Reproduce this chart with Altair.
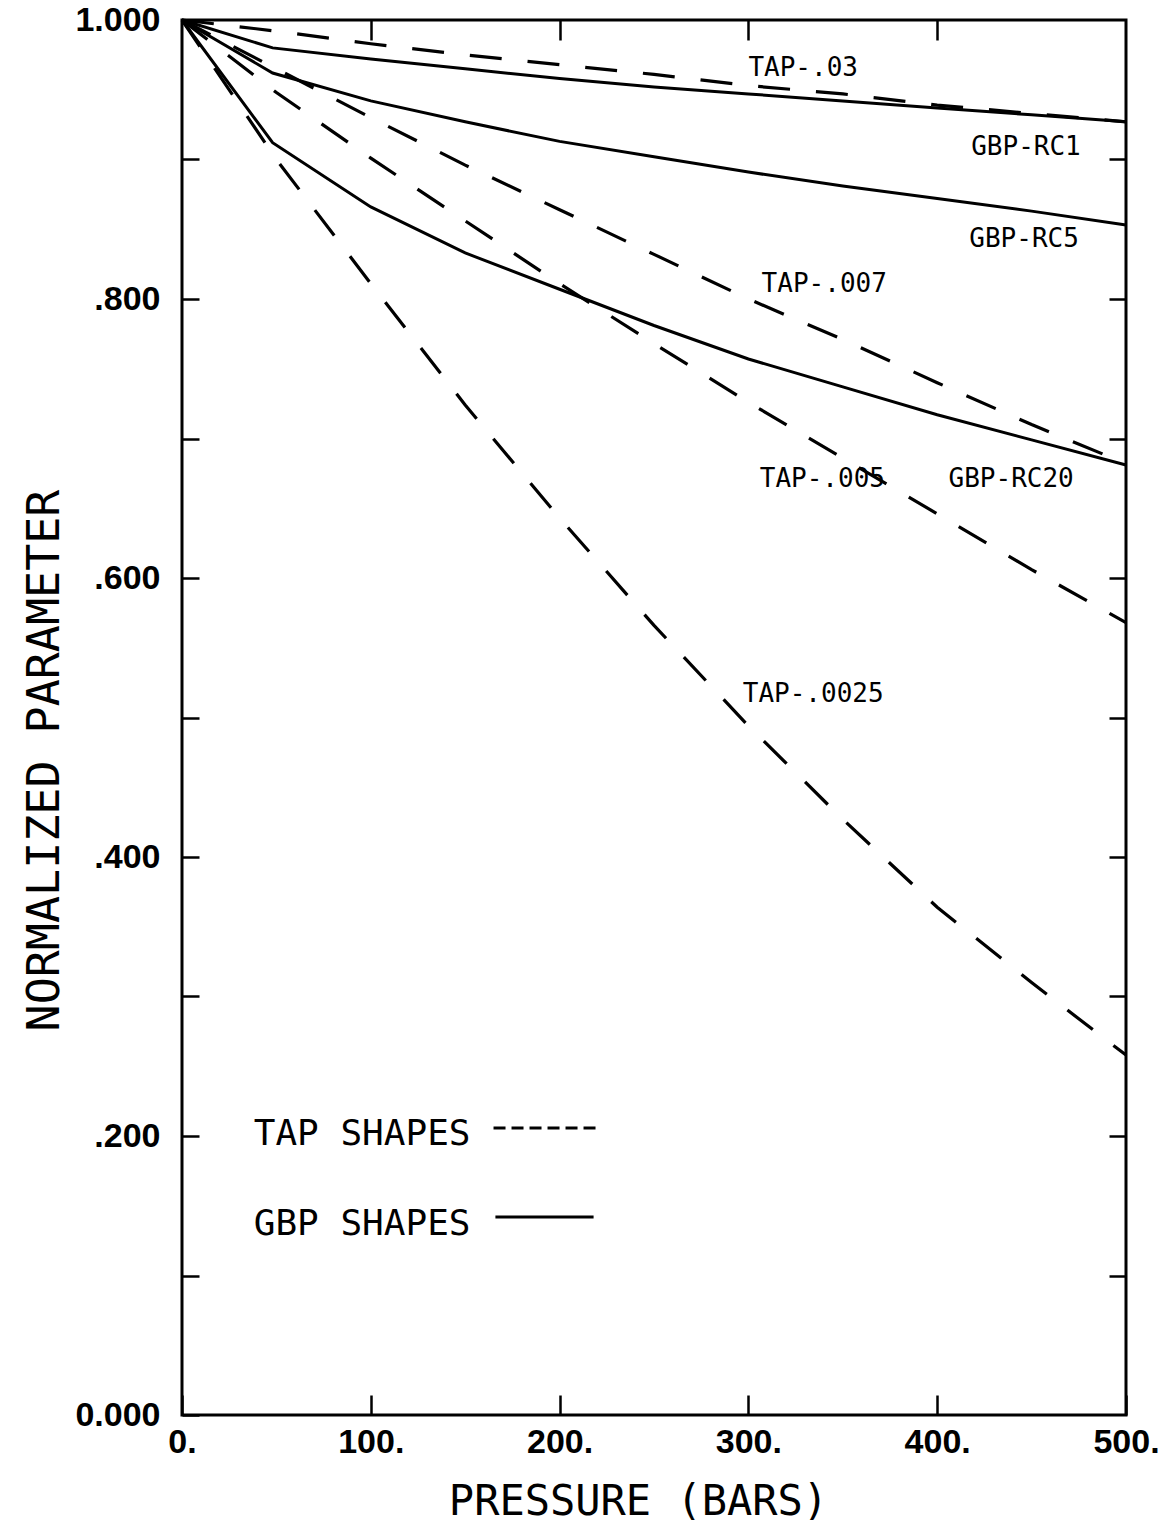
import altair as alt
import pandas as pd

# Pressure grid (bars) for the computed curves
TAP_P = [0, 50, 100, 150, 200, 250, 300, 350, 400, 450, 500]
GBP_P = [0, 48, 100, 150, 200, 250, 300, 350, 400, 450, 500]

# TAP shapes (dashed)
TAP_03 = [1.000, 0.992, 0.983, 0.975, 0.968, 0.961, 0.953, 0.947, 0.939, 0.933, 0.927]
TAP_007 = [1.000, 0.965, 0.930, 0.896, 0.864, 0.832, 0.800, 0.771, 0.740, 0.710, 0.682]
TAP_005 = [1.000, 0.948, 0.901, 0.856, 0.811, 0.768, 0.726, 0.686, 0.646, 0.606, 0.568]
TAP_0025 = [1.000, 0.900, 0.811, 0.724, 0.643, 0.566, 0.494, 0.427, 0.364, 0.310, 0.258]

# GBP shapes (solid)
GBP_RC1 = [1.000, 0.980, 0.972, 0.965, 0.958, 0.952, 0.947, 0.942, 0.937, 0.932, 0.927]
GBP_RC5 = [1.000, 0.962, 0.942, 0.927, 0.913, 0.902, 0.891, 0.881, 0.872, 0.863, 0.853]
GBP_RC20 = [1.000, 0.912, 0.866, 0.833, 0.807, 0.781, 0.757, 0.737, 0.717, 0.699, 0.681]

# Curve labels: text, pressure, parameter (left / baseline anchor)
LABEL_TEXT = ["TAP-.03", "GBP-RC1", "GBP-RC5", "TAP-.007", "TAP-.005", "GBP-RC20", "TAP-.0025"]
LABEL_X = [300, 418, 417, 307, 306, 406, 297]
LABEL_Y = [0.960, 0.903, 0.837, 0.805, 0.665, 0.665, 0.511]

# Key entries
KEY_TEXT = ["TAP SHAPES", "GBP SHAPES"]
KEY_X = [38, 38]
KEY_Y = [0.1935, 0.129]
KEY_LINE_X = [165, 166]
KEY_LINE_X2 = [222, 218]
KEY_LINE_Y = [0.2057, 0.142]

# Axis ticks and labels
X_TICKS = [0, 100, 200, 300, 400, 500]
X_LABELS = ["0.", "100.", "200.", "300.", "400.", "500."]
X_TOP_TICKS = [100, 200, 300, 400]
Y_TICKS = [round(i * 0.1, 1) for i in range(11)]
Y_LABELS = ["0.000", "", ".200", "", ".400", "", ".600", "", ".800", "", "1.000"]

rows = []
for name, vals in [("TAP-.03", TAP_03), ("TAP-.007", TAP_007),
                   ("TAP-.005", TAP_005), ("TAP-.0025", TAP_0025)]:
    for p, v in zip(TAP_P, vals):
        rows.append({"series": name, "pressure": p, "value": v})
tap_df = pd.DataFrame(rows)

rows = []
for name, vals in [("GBP-RC1", GBP_RC1), ("GBP-RC5", GBP_RC5), ("GBP-RC20", GBP_RC20)]:
    for p, v in zip(GBP_P, vals):
        rows.append({"series": name, "pressure": p, "value": v})
gbp_df = pd.DataFrame(rows)

labels_df = pd.DataFrame({"text": LABEL_TEXT, "pressure": LABEL_X, "value": LABEL_Y})
key_df = pd.DataFrame({"text": KEY_TEXT, "pressure": KEY_X, "value": KEY_Y})
key_dash_df = pd.DataFrame({"x": KEY_LINE_X[:1], "x2": KEY_LINE_X2[:1], "y": KEY_LINE_Y[:1]})
key_solid_df = pd.DataFrame({"x": KEY_LINE_X[1:], "x2": KEY_LINE_X2[1:], "y": KEY_LINE_Y[1:]})

x_scale = alt.Scale(domain=[0, 500], nice=False, zero=False)
y_scale = alt.Scale(domain=[0, 1], nice=False, zero=False)

x_label_expr = "[" + ",".join("'%s'" % s for s in X_LABELS) + "][round(datum.value/100)]"
y_label_expr = "[" + ",".join("'%s'" % s for s in Y_LABELS) + "][round(datum.value*10)]"

tick_font = "Liberation Sans"
mono = "DejaVu Sans Mono"

x_bottom = alt.Axis(orient="bottom", values=X_TICKS, offset=-20, tickSize=20, tickWidth=2.5,
                    tickColor="black", domain=False, grid=False, labelExpr=x_label_expr,
                    labelFont=tick_font, labelFontWeight="bold", labelFontSize=34,
                    labelColor="black", labelPadding=10, labelFlush=False,
                    title="PRESSURE (BARS)", titleFont=mono, titleFontSize=42,
                    titleFontWeight="normal", titleColor="black", titlePadding=22,
                    titleX=456)
y_left = alt.Axis(orient="left", values=Y_TICKS, offset=-17, tickSize=17, tickWidth=2.5,
                  tickColor="black", domain=False, grid=False, labelExpr=y_label_expr,
                  labelFont=tick_font, labelFontWeight="bold", labelFontSize=34,
                  labelColor="black", labelPadding=22, labelFlush=False,
                  title="NORMALIZED PARAMETER", titleFont=mono, titleFontSize=45,
                  titleFontWeight="normal", titleColor="black", titlePadding=7,
                  titleY=740)
x_top = alt.Axis(orient="top", values=X_TOP_TICKS, offset=-20, tickSize=20, tickWidth=2.5,
                 tickColor="black", domain=False, grid=False, labels=False, title=None)
y_right = alt.Axis(orient="right", values=Y_TICKS[1:-1], offset=-17, tickSize=17,
                   tickWidth=2.5, tickColor="black", domain=False, grid=False,
                   labels=False, title=None)

tap_lines = alt.Chart(tap_df).mark_line(
    color="black", strokeWidth=3.2, strokeDash=[32, 26], strokeCap="butt"
).encode(
    x=alt.X("pressure:Q", scale=x_scale, axis=x_bottom),
    y=alt.Y("value:Q", scale=y_scale, axis=y_left),
    detail="series:N",
)

gbp_lines = alt.Chart(gbp_df).mark_line(color="black", strokeWidth=3).encode(
    x=alt.X("pressure:Q", scale=x_scale, axis=x_top),
    y=alt.Y("value:Q", scale=y_scale, axis=y_right),
    detail="series:N",
)

curve_labels = alt.Chart(labels_df).mark_text(
    align="left", baseline="alphabetic", font=mono, fontSize=26, color="black"
).encode(
    x=alt.X("pressure:Q", scale=x_scale, axis=None),
    y=alt.Y("value:Q", scale=y_scale, axis=None),
    text="text:N",
)

key_text = alt.Chart(key_df).mark_text(
    align="left", baseline="alphabetic", font=mono, fontSize=36, color="black"
).encode(
    x=alt.X("pressure:Q", scale=x_scale, axis=None),
    y=alt.Y("value:Q", scale=y_scale, axis=None),
    text="text:N",
)

key_dash = alt.Chart(key_dash_df).mark_rule(
    color="black", strokeWidth=3, strokeDash=[12, 6], strokeCap="butt"
).encode(
    x=alt.X("x:Q", scale=x_scale, axis=None),
    x2="x2:Q",
    y=alt.Y("y:Q", scale=y_scale, axis=None),
)

key_solid = alt.Chart(key_solid_df).mark_rule(color="black", strokeWidth=3).encode(
    x=alt.X("x:Q", scale=x_scale, axis=None),
    x2="x2:Q",
    y=alt.Y("y:Q", scale=y_scale, axis=None),
)

chart = alt.layer(
    tap_lines, gbp_lines, curve_labels, key_text, key_dash, key_solid
).resolve_axis(
    x="independent", y="independent"
).properties(
    width=944,
    height=1395,
    autosize=alt.AutoSizeParams(type="none"),
    padding={"left": 182, "top": 20, "right": 39, "bottom": 114},
    background="white",
).configure_view(
    stroke="black", strokeWidth=3
)

chart.save("out.html", embed_options={"renderer": "svg", "actions": False})
